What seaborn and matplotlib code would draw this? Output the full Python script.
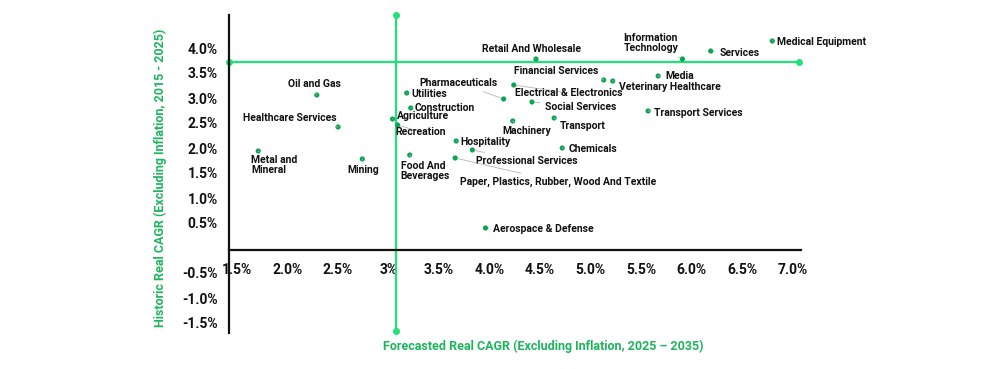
import pandas as pd
import seaborn as sns
import matplotlib.pyplot as plt

# values (percent)
sectors = [
    "Oil and Gas", "Healthcare Services", "Metal and\nMineral", "Mining",
    "Utilities", "Construction", "Agriculture", "Recreation",
    "Food And\nBeverages", "Pharmaceuticals", "Electrical & Electronics",
    "Retail And Wholesale", "Information\nTechnology", "Financial Services",
    "Veterinary Healthcare", "Media", "Social Services", "Transport Services",
    "Machinery", "Transport", "Hospitality", "Chemicals",
    "Professional Services", "Paper, Plastics, Rubber, Wood And Textile",
    "Services", "Medical Equipment", "Aerospace & Defense",
]
forecast_cagr = [
    2.29, 2.50, 1.71, 2.74,
    3.18, 3.22, 3.04, 3.09,
    3.21, 4.14, 4.24,
    4.46, 5.91, 5.13,
    5.22, 5.67, 4.42, 5.57,
    4.23, 4.64, 3.67, 4.72,
    3.83, 3.66,
    6.19, 6.80, 3.96,
]
historic_cagr = [
    3.06, 2.42, 1.94, 1.78,
    3.10, 2.80, 2.58, 2.46,
    1.86, 2.98, 3.26,
    3.78, 3.78, 3.36,
    3.34, 3.44, 2.92, 2.74,
    2.54, 2.60, 2.14, 2.00,
    1.96, 1.80,
    3.94, 4.14, 0.40,
]

# reference (average) lines
avg_forecast = 3.07
avg_historic = 3.72

x_ticks = [1.5, 2.0, 2.5, 3.0, 3.5, 4.0, 4.5, 5.0, 5.5, 6.0, 6.5, 7.0]
x_tick_labels = ["1.5%", "2.0%", "2.5%", "3%", "3.5%", "4.0%", "4.5%",
                 "5.0%", "5.5%", "6.0%", "6.5%", "7.0%"]
y_ticks = [-1.5, -1.0, -0.5, 0.5, 1.0, 1.5, 2.0, 2.5, 3.0, 3.5, 4.0]
y_tick_labels = ["-1.5%", "-1.0%", "-0.5%", "0.5%", "1.0%", "1.5%", "2.0%",
                 "2.5%", "3.0%", "3.5%", "4.0%"]

# label offsets from the point (pixels, left edge of text / vertical centre)
label_offsets = [
    (-29, 11), (-95, 9), (-7, -14), (-15, -11),
    (5, -1), (4, 0), (4, 3), (-2, -7),
    (-9, -16), (-84, 16), (1, -8),
    (-54, 10), (-59, 16), (-90, 9),
    (6, -6), (7, 0), (13, -5), (6, -2),
    (-10, -10), (6, -8), (4, -1), (6, -1),
    (4, -11), (5, -24),
    (9, -2), (5, -1), (8, -1),
]

df = pd.DataFrame({"sector": sectors, "forecast": forecast_cagr, "historic": historic_cagr})

sns.set_style("white")
plt.rcParams["font.family"] = ["Roboto", "DejaVu Sans"]

line_green = "#22e07a"
dot_green = "#0aa552"
title_green = "#1fb55e"

fig = plt.figure(figsize=(9.84, 3.69), dpi=100)
ax = fig.add_axes([0, 0, 1, 1])
ax.set_xlim(-0.847, 8.896)
ax.set_ylim(-2.42, 4.96)

# axes crossing lines
for side in ["top", "right"]:
    ax.spines[side].set_visible(False)
ax.spines["left"].set_position(("data", 1.42))
ax.spines["bottom"].set_position(("data", -0.04))
ax.spines["left"].set_bounds(-1.70, 4.66)
ax.spines["bottom"].set_bounds(1.42, 7.08)
for side in ["left", "bottom"]:
    ax.spines[side].set_linewidth(1.6)
    ax.spines[side].set_color("#111111")

ax.set_xticks(x_ticks)
ax.set_xticklabels(x_tick_labels)
ax.set_yticks(y_ticks)
ax.set_yticklabels(y_tick_labels)
ax.tick_params(axis="x", length=0, pad=9, labelsize=10)
ax.tick_params(axis="y", length=0, pad=8, labelsize=10)
for lbl in ax.get_xticklabels() + ax.get_yticklabels():
    lbl.set_fontweight("bold")
    lbl.set_color("#111111")

# average lines
ax.plot([avg_forecast, avg_forecast], [-1.66, 4.66], color=line_green, lw=1.6,
        marker="o", markersize=4, zorder=2)
ax.plot([1.42, 7.06], [avg_historic, avg_historic], color=line_green, lw=1.6,
        marker="o", markersize=4, zorder=2)

sns.scatterplot(data=df, x="forecast", y="historic", color=dot_green, s=14,
                edgecolor="none", ax=ax, zorder=3)

for (name, fx, hy), (dx, dy) in zip(zip(sectors, forecast_cagr, historic_cagr), label_offsets):
    ax.annotate(name, xy=(fx, hy), xytext=(dx, dy), textcoords="offset pixels",
                ha="left", va="center", fontsize=7.5, fontweight="bold",
                color="#111111", linespacing=1.0,
                arrowprops=dict(arrowstyle="-", color="#b5b5b5", lw=0.6,
                                shrinkA=1, shrinkB=2))

ax.set_xlabel("Forecasted Real CAGR (Excluding Inflation, 2025 \u2013 2035)",
              color=title_green, fontsize=9, fontweight="bold")
ax.xaxis.set_label_coords(543 / 984, 1 - 340 / 369)
ax.set_ylabel("Historic Real CAGR (Excluding Inflation, 2015 - 2025)",
              color=title_green, fontsize=9, fontweight="bold")
ax.yaxis.set_label_coords(167 / 984, 1 - 178 / 369)

fig.savefig("out.png", dpi=100)
